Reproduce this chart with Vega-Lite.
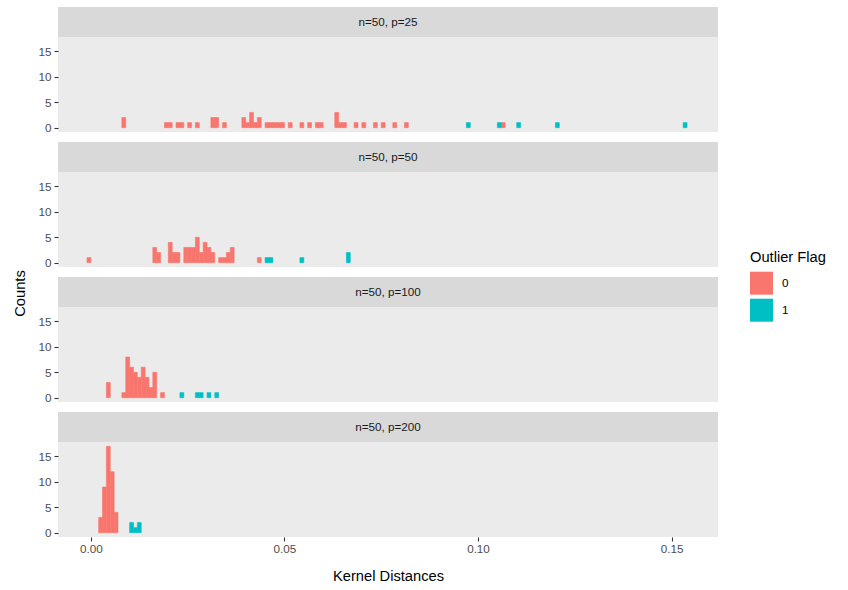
{
  "$schema": "https://vega.github.io/schema/vega-lite/v6.json",
  "background": "white",
  "padding": {"left": 12, "top": 7, "right": 5, "bottom": 5},
  "bounds": "flush",
  "spacing": 10,
  "config": {
    "font": "Liberation Sans",
    "view": {"fill": "#EBEBEB", "stroke": null},
    "axis": {"grid": false, "domain": false, "tickColor": "#333333", "tickSize": 4, "tickWidth": 1.1, "labelColor": "#4D4D4D", "labelFontSize": 11.7, "labelPadding": 3, "titleFontSize": 14.7, "titleFontWeight": "normal", "titleColor": "#000000"},
    "legend": {"titleFontSize": 14.7, "titleFontWeight": "normal", "titleColor": "#000000", "labelFontSize": 11.7, "labelColor": "#000000", "symbolType": "square", "symbolSize": 529, "symbolStrokeWidth": 0, "symbolOpacity": 1, "rowPadding": 4, "titlePadding": 7, "labelOffset": 9, "padding": 0}
  },
  "datasets": {
    "strips": [
      {"panel": "n=50, p=25"}, {"panel": "n=50, p=50"}, {"panel": "n=50, p=100"}, {"panel": "n=50, p=200"}
    ],
    "bins": [
      {"panel": "n=50, p=25", "start": 0.008, "end": 0.009, "count": 2, "flag": "0"},
      {"panel": "n=50, p=25", "start": 0.019, "end": 0.020, "count": 1, "flag": "0"},
      {"panel": "n=50, p=25", "start": 0.020, "end": 0.021, "count": 1, "flag": "0"},
      {"panel": "n=50, p=25", "start": 0.022, "end": 0.023, "count": 1, "flag": "0"},
      {"panel": "n=50, p=25", "start": 0.023, "end": 0.024, "count": 1, "flag": "0"},
      {"panel": "n=50, p=25", "start": 0.025, "end": 0.026, "count": 1, "flag": "0"},
      {"panel": "n=50, p=25", "start": 0.027, "end": 0.028, "count": 1, "flag": "0"},
      {"panel": "n=50, p=25", "start": 0.031, "end": 0.032, "count": 2, "flag": "0"},
      {"panel": "n=50, p=25", "start": 0.032, "end": 0.033, "count": 2, "flag": "0"},
      {"panel": "n=50, p=25", "start": 0.034, "end": 0.035, "count": 1, "flag": "0"},
      {"panel": "n=50, p=25", "start": 0.039, "end": 0.040, "count": 2, "flag": "0"},
      {"panel": "n=50, p=25", "start": 0.040, "end": 0.041, "count": 1, "flag": "0"},
      {"panel": "n=50, p=25", "start": 0.041, "end": 0.042, "count": 3, "flag": "0"},
      {"panel": "n=50, p=25", "start": 0.042, "end": 0.043, "count": 1, "flag": "0"},
      {"panel": "n=50, p=25", "start": 0.043, "end": 0.044, "count": 2, "flag": "0"},
      {"panel": "n=50, p=25", "start": 0.045, "end": 0.046, "count": 1, "flag": "0"},
      {"panel": "n=50, p=25", "start": 0.046, "end": 0.047, "count": 1, "flag": "0"},
      {"panel": "n=50, p=25", "start": 0.047, "end": 0.048, "count": 1, "flag": "0"},
      {"panel": "n=50, p=25", "start": 0.048, "end": 0.049, "count": 1, "flag": "0"},
      {"panel": "n=50, p=25", "start": 0.049, "end": 0.050, "count": 1, "flag": "0"},
      {"panel": "n=50, p=25", "start": 0.051, "end": 0.052, "count": 1, "flag": "0"},
      {"panel": "n=50, p=25", "start": 0.054, "end": 0.055, "count": 1, "flag": "0"},
      {"panel": "n=50, p=25", "start": 0.056, "end": 0.057, "count": 1, "flag": "0"},
      {"panel": "n=50, p=25", "start": 0.058, "end": 0.059, "count": 1, "flag": "0"},
      {"panel": "n=50, p=25", "start": 0.059, "end": 0.060, "count": 1, "flag": "0"},
      {"panel": "n=50, p=25", "start": 0.063, "end": 0.064, "count": 3, "flag": "0"},
      {"panel": "n=50, p=25", "start": 0.064, "end": 0.065, "count": 1, "flag": "0"},
      {"panel": "n=50, p=25", "start": 0.065, "end": 0.066, "count": 1, "flag": "0"},
      {"panel": "n=50, p=25", "start": 0.068, "end": 0.069, "count": 1, "flag": "0"},
      {"panel": "n=50, p=25", "start": 0.070, "end": 0.071, "count": 1, "flag": "0"},
      {"panel": "n=50, p=25", "start": 0.073, "end": 0.074, "count": 1, "flag": "0"},
      {"panel": "n=50, p=25", "start": 0.075, "end": 0.076, "count": 1, "flag": "0"},
      {"panel": "n=50, p=25", "start": 0.078, "end": 0.079, "count": 1, "flag": "0"},
      {"panel": "n=50, p=25", "start": 0.081, "end": 0.082, "count": 1, "flag": "0"},
      {"panel": "n=50, p=25", "start": 0.106, "end": 0.107, "count": 1, "flag": "0"},
      {"panel": "n=50, p=25", "start": 0.097, "end": 0.098, "count": 1, "flag": "1"},
      {"panel": "n=50, p=25", "start": 0.105, "end": 0.106, "count": 1, "flag": "1"},
      {"panel": "n=50, p=25", "start": 0.110, "end": 0.111, "count": 1, "flag": "1"},
      {"panel": "n=50, p=25", "start": 0.120, "end": 0.121, "count": 1, "flag": "1"},
      {"panel": "n=50, p=25", "start": 0.153, "end": 0.154, "count": 1, "flag": "1"},

      {"panel": "n=50, p=50", "start": -0.001, "end": 0.000, "count": 1, "flag": "0"},
      {"panel": "n=50, p=50", "start": 0.016, "end": 0.017, "count": 3, "flag": "0"},
      {"panel": "n=50, p=50", "start": 0.017, "end": 0.018, "count": 2, "flag": "0"},
      {"panel": "n=50, p=50", "start": 0.020, "end": 0.021, "count": 4, "flag": "0"},
      {"panel": "n=50, p=50", "start": 0.021, "end": 0.022, "count": 2, "flag": "0"},
      {"panel": "n=50, p=50", "start": 0.022, "end": 0.023, "count": 2, "flag": "0"},
      {"panel": "n=50, p=50", "start": 0.024, "end": 0.025, "count": 3, "flag": "0"},
      {"panel": "n=50, p=50", "start": 0.025, "end": 0.026, "count": 3, "flag": "0"},
      {"panel": "n=50, p=50", "start": 0.026, "end": 0.027, "count": 3, "flag": "0"},
      {"panel": "n=50, p=50", "start": 0.027, "end": 0.028, "count": 5, "flag": "0"},
      {"panel": "n=50, p=50", "start": 0.028, "end": 0.029, "count": 2, "flag": "0"},
      {"panel": "n=50, p=50", "start": 0.029, "end": 0.030, "count": 4, "flag": "0"},
      {"panel": "n=50, p=50", "start": 0.030, "end": 0.031, "count": 3, "flag": "0"},
      {"panel": "n=50, p=50", "start": 0.031, "end": 0.032, "count": 2, "flag": "0"},
      {"panel": "n=50, p=50", "start": 0.033, "end": 0.034, "count": 1, "flag": "0"},
      {"panel": "n=50, p=50", "start": 0.034, "end": 0.035, "count": 1, "flag": "0"},
      {"panel": "n=50, p=50", "start": 0.035, "end": 0.036, "count": 2, "flag": "0"},
      {"panel": "n=50, p=50", "start": 0.036, "end": 0.037, "count": 3, "flag": "0"},
      {"panel": "n=50, p=50", "start": 0.043, "end": 0.044, "count": 1, "flag": "0"},
      {"panel": "n=50, p=50", "start": 0.045, "end": 0.046, "count": 1, "flag": "1"},
      {"panel": "n=50, p=50", "start": 0.046, "end": 0.047, "count": 1, "flag": "1"},
      {"panel": "n=50, p=50", "start": 0.054, "end": 0.055, "count": 1, "flag": "1"},
      {"panel": "n=50, p=50", "start": 0.066, "end": 0.067, "count": 2, "flag": "1"},

      {"panel": "n=50, p=100", "start": 0.004, "end": 0.005, "count": 3, "flag": "0"},
      {"panel": "n=50, p=100", "start": 0.008, "end": 0.009, "count": 1, "flag": "0"},
      {"panel": "n=50, p=100", "start": 0.009, "end": 0.010, "count": 8, "flag": "0"},
      {"panel": "n=50, p=100", "start": 0.010, "end": 0.011, "count": 6, "flag": "0"},
      {"panel": "n=50, p=100", "start": 0.011, "end": 0.012, "count": 5, "flag": "0"},
      {"panel": "n=50, p=100", "start": 0.012, "end": 0.013, "count": 4, "flag": "0"},
      {"panel": "n=50, p=100", "start": 0.013, "end": 0.014, "count": 6, "flag": "0"},
      {"panel": "n=50, p=100", "start": 0.014, "end": 0.015, "count": 4, "flag": "0"},
      {"panel": "n=50, p=100", "start": 0.015, "end": 0.016, "count": 2, "flag": "0"},
      {"panel": "n=50, p=100", "start": 0.016, "end": 0.017, "count": 5, "flag": "0"},
      {"panel": "n=50, p=100", "start": 0.018, "end": 0.019, "count": 1, "flag": "0"},
      {"panel": "n=50, p=100", "start": 0.023, "end": 0.024, "count": 1, "flag": "1"},
      {"panel": "n=50, p=100", "start": 0.027, "end": 0.028, "count": 1, "flag": "1"},
      {"panel": "n=50, p=100", "start": 0.028, "end": 0.029, "count": 1, "flag": "1"},
      {"panel": "n=50, p=100", "start": 0.030, "end": 0.031, "count": 1, "flag": "1"},
      {"panel": "n=50, p=100", "start": 0.032, "end": 0.033, "count": 1, "flag": "1"},

      {"panel": "n=50, p=200", "start": 0.002, "end": 0.003, "count": 3, "flag": "0"},
      {"panel": "n=50, p=200", "start": 0.003, "end": 0.004, "count": 9, "flag": "0"},
      {"panel": "n=50, p=200", "start": 0.004, "end": 0.005, "count": 17, "flag": "0"},
      {"panel": "n=50, p=200", "start": 0.005, "end": 0.006, "count": 12, "flag": "0"},
      {"panel": "n=50, p=200", "start": 0.006, "end": 0.007, "count": 4, "flag": "0"},
      {"panel": "n=50, p=200", "start": 0.010, "end": 0.011, "count": 2, "flag": "1"},
      {"panel": "n=50, p=200", "start": 0.011, "end": 0.012, "count": 1, "flag": "1"},
      {"panel": "n=50, p=200", "start": 0.012, "end": 0.013, "count": 2, "flag": "1"}
    ]
  },
  "resolve": {"scale": {"color": "shared", "stroke": "shared"}},
  "vconcat": [
    {
      "width": 660, "height": 125,
      "layer": [
        {"data": {"name": "bins"}, "transform": [{"filter": {"field": "panel", "equal": "n=50, p=25"}}],
         "mark": {"type": "bar", "strokeWidth": 0.6},
         "encoding": {
           "x": {"field": "start", "type": "quantitative", "scale": {"domain": [-0.0085, 0.162], "nice": false, "zero": false}, "axis": null},
           "x2": {"field": "end"},
           "y": {"field": "count", "type": "quantitative", "scale": {"domain": [-0.85, 23.76], "nice": false}, "axis": {"values": [0, 5, 10, 15], "title": null}},
           "y2": {"datum": 0},
           "color": {"field": "flag", "type": "nominal", "scale": {"domain": ["0", "1"], "range": ["#F8766D", "#00BFC4"]}, "legend": {"title": "Outlier Flag", "orient": "none", "legendX": 692, "legendY": 243}},
           "stroke": {"field": "flag", "type": "nominal", "scale": {"domain": ["0", "1"], "range": ["#F8766D", "#00BFC4"]}, "legend": null}
         }},
        {"data": {"name": "strips"}, "transform": [{"filter": {"field": "panel", "equal": "n=50, p=25"}}],
         "mark": {"type": "rect", "fill": "#D9D9D9"},
         "encoding": {"y": {"datum": 17.85, "type": "quantitative", "axis": {"values": [0, 5, 10, 15], "title": null}}, "y2": {"datum": 23.76}}},
        {"data": {"name": "strips"}, "transform": [{"filter": {"field": "panel", "equal": "n=50, p=25"}}],
         "mark": {"type": "text", "fontSize": 11.7, "color": "#1A1A1A", "baseline": "middle"},
         "encoding": {"y": {"datum": 20.8, "type": "quantitative", "axis": {"values": [0, 5, 10, 15], "title": null}}, "text": {"field": "panel", "type": "nominal"}}}
      ]
    },
    {
      "width": 660, "height": 125,
      "layer": [
        {"data": {"name": "bins"}, "transform": [{"filter": {"field": "panel", "equal": "n=50, p=50"}}],
         "mark": {"type": "bar", "strokeWidth": 0.6},
         "encoding": {
           "x": {"field": "start", "type": "quantitative", "scale": {"domain": [-0.0085, 0.162], "nice": false, "zero": false}, "axis": null},
           "x2": {"field": "end"},
           "y": {"field": "count", "type": "quantitative", "scale": {"domain": [-0.85, 23.76], "nice": false}, "axis": {"values": [0, 5, 10, 15], "title": null}},
           "y2": {"datum": 0},
           "color": {"field": "flag", "type": "nominal", "scale": {"domain": ["0", "1"], "range": ["#F8766D", "#00BFC4"]}, "legend": {"title": "Outlier Flag", "orient": "none", "legendX": 692, "legendY": 243}},
           "stroke": {"field": "flag", "type": "nominal", "scale": {"domain": ["0", "1"], "range": ["#F8766D", "#00BFC4"]}, "legend": null}
         }},
        {"data": {"name": "strips"}, "transform": [{"filter": {"field": "panel", "equal": "n=50, p=50"}}],
         "mark": {"type": "rect", "fill": "#D9D9D9"},
         "encoding": {"y": {"datum": 17.85, "type": "quantitative", "axis": {"values": [0, 5, 10, 15], "title": null}}, "y2": {"datum": 23.76}}},
        {"data": {"name": "strips"}, "transform": [{"filter": {"field": "panel", "equal": "n=50, p=50"}}],
         "mark": {"type": "text", "fontSize": 11.7, "color": "#1A1A1A", "baseline": "middle"},
         "encoding": {"y": {"datum": 20.8, "type": "quantitative", "axis": {"values": [0, 5, 10, 15], "title": null}}, "text": {"field": "panel", "type": "nominal"}}}
      ]
    },
    {
      "width": 660, "height": 125,
      "layer": [
        {"data": {"name": "bins"}, "transform": [{"filter": {"field": "panel", "equal": "n=50, p=100"}}],
         "mark": {"type": "bar", "strokeWidth": 0.6},
         "encoding": {
           "x": {"field": "start", "type": "quantitative", "scale": {"domain": [-0.0085, 0.162], "nice": false, "zero": false}, "axis": null},
           "x2": {"field": "end"},
           "y": {"field": "count", "type": "quantitative", "scale": {"domain": [-0.85, 23.76], "nice": false}, "axis": {"values": [0, 5, 10, 15], "title": "Counts", "titleX": -31, "titleY": 16}},
           "y2": {"datum": 0},
           "color": {"field": "flag", "type": "nominal", "scale": {"domain": ["0", "1"], "range": ["#F8766D", "#00BFC4"]}, "legend": {"title": "Outlier Flag", "orient": "none", "legendX": 692, "legendY": 243}},
           "stroke": {"field": "flag", "type": "nominal", "scale": {"domain": ["0", "1"], "range": ["#F8766D", "#00BFC4"]}, "legend": null}
         }},
        {"data": {"name": "strips"}, "transform": [{"filter": {"field": "panel", "equal": "n=50, p=100"}}],
         "mark": {"type": "rect", "fill": "#D9D9D9"},
         "encoding": {"y": {"datum": 17.85, "type": "quantitative", "axis": {"values": [0, 5, 10, 15], "title": "Counts", "titleX": -31, "titleY": 16}}, "y2": {"datum": 23.76}}},
        {"data": {"name": "strips"}, "transform": [{"filter": {"field": "panel", "equal": "n=50, p=100"}}],
         "mark": {"type": "text", "fontSize": 11.7, "color": "#1A1A1A", "baseline": "middle"},
         "encoding": {"y": {"datum": 20.8, "type": "quantitative", "axis": {"values": [0, 5, 10, 15], "title": "Counts", "titleX": -31, "titleY": 16}}, "text": {"field": "panel", "type": "nominal"}}}
      ]
    },
    {
      "width": 660, "height": 125,
      "layer": [
        {"data": {"name": "bins"}, "transform": [{"filter": {"field": "panel", "equal": "n=50, p=200"}}],
         "mark": {"type": "bar", "strokeWidth": 0.6},
         "encoding": {
           "x": {"field": "start", "type": "quantitative", "scale": {"domain": [-0.0085, 0.162], "nice": false, "zero": false}, "axis": {"values": [0, 0.05, 0.1, 0.15], "format": ".2f", "title": "Kernel Distances", "labelPadding": 2, "titlePadding": 14}},
           "x2": {"field": "end"},
           "y": {"field": "count", "type": "quantitative", "scale": {"domain": [-0.85, 23.76], "nice": false}, "axis": {"values": [0, 5, 10, 15], "title": null}},
           "y2": {"datum": 0},
           "color": {"field": "flag", "type": "nominal", "scale": {"domain": ["0", "1"], "range": ["#F8766D", "#00BFC4"]}, "legend": {"title": "Outlier Flag", "orient": "none", "legendX": 692, "legendY": 243}},
           "stroke": {"field": "flag", "type": "nominal", "scale": {"domain": ["0", "1"], "range": ["#F8766D", "#00BFC4"]}, "legend": null}
         }},
        {"data": {"name": "strips"}, "transform": [{"filter": {"field": "panel", "equal": "n=50, p=200"}}],
         "mark": {"type": "rect", "fill": "#D9D9D9"},
         "encoding": {"y": {"datum": 17.85, "type": "quantitative", "axis": {"values": [0, 5, 10, 15], "title": null}}, "y2": {"datum": 23.76}}},
        {"data": {"name": "strips"}, "transform": [{"filter": {"field": "panel", "equal": "n=50, p=200"}}],
         "mark": {"type": "text", "fontSize": 11.7, "color": "#1A1A1A", "baseline": "middle"},
         "encoding": {"y": {"datum": 20.8, "type": "quantitative", "axis": {"values": [0, 5, 10, 15], "title": null}}, "text": {"field": "panel", "type": "nominal"}}}
      ]
    }
  ]
}
